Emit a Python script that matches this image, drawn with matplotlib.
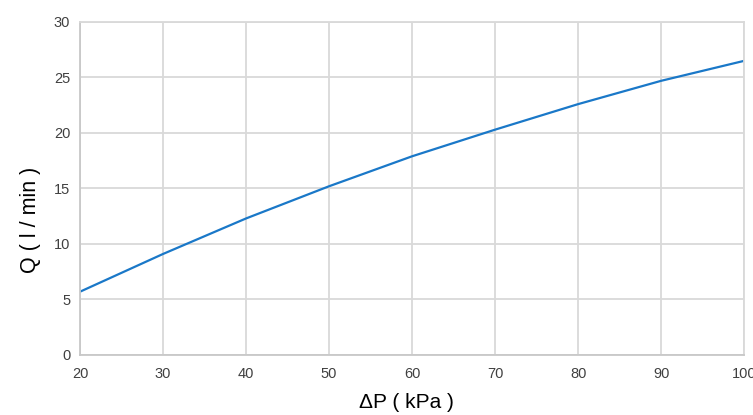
import matplotlib.pyplot as plt

# pressure drop (kPa) vs flow (l/min)
dp = [20, 30, 40, 50, 60, 70, 80, 90, 100]
q = [5.7, 9.1, 12.3, 15.2, 17.9, 20.3, 22.6, 24.7, 26.5]

x_ticks = [20, 30, 40, 50, 60, 70, 80, 90, 100]
y_ticks = [0, 5, 10, 15, 20, 25, 30]

plt.rcParams['font.family'] = ['Liberation Sans', 'DejaVu Sans']

fig = plt.figure(figsize=(7.53, 4.15), dpi=100)
ax = fig.add_axes([0.1062, 0.1446, 0.882, 0.8024])

ax.plot(dp, q, color='#1a78c8', linewidth=1.6, solid_capstyle='butt')

ax.set_xlim(20, 100)
ax.set_ylim(0, 30)
ax.set_xticks(x_ticks)
ax.set_yticks(y_ticks)
ax.grid(True, color='#d9d9d9', linewidth=1.3)
ax.set_axisbelow(True)
for s in ax.spines.values():
    s.set_color('#d9d9d9')
    s.set_linewidth(1.3)
ax.spines['left'].set_color('#c8c8c8')
ax.spines['bottom'].set_color('#c8c8c8')

ax.tick_params(length=0, labelsize=10.5, colors='#404040')
ax.tick_params(axis='y', pad=7)
ax.tick_params(axis='x', pad=9)

ax.set_xlabel('ΔP ( kPa )', fontsize=15, color='#000000')
ax.set_ylabel('Q ( l / min )', fontsize=15.5, color='#000000')
ax.xaxis.set_label_coords(0.491, -0.115)
ax.yaxis.set_label_coords(-0.058, 0.405)

fig.savefig('out.png', dpi=100)
